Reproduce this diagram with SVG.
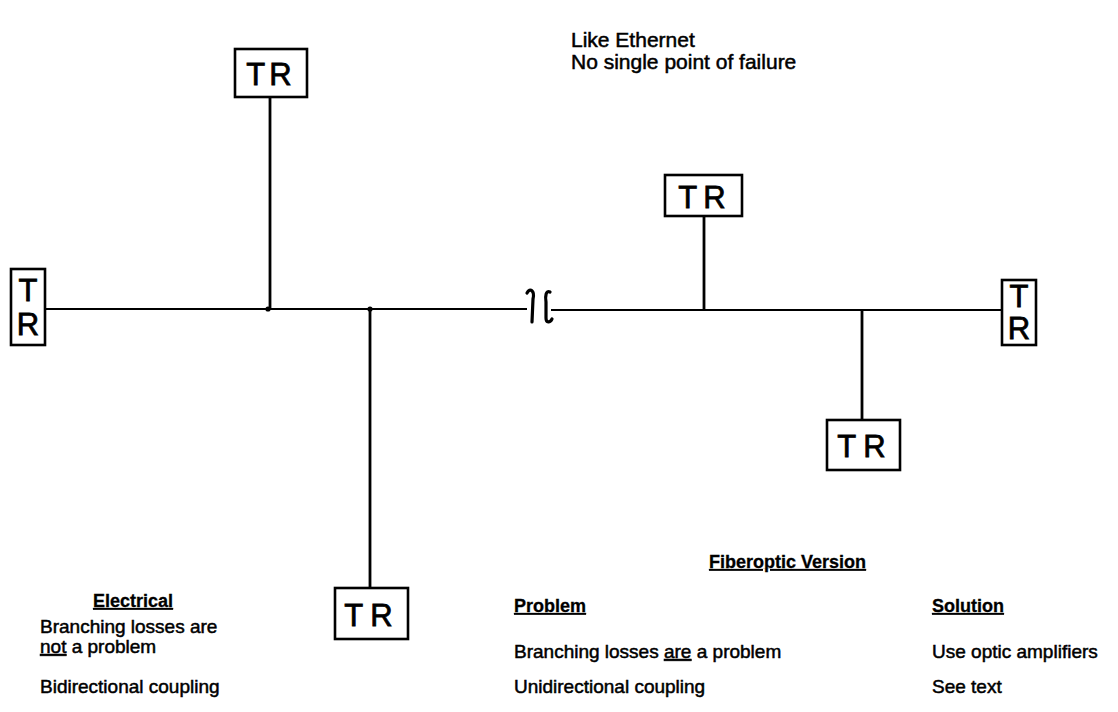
<svg xmlns="http://www.w3.org/2000/svg" width="1118" height="712" viewBox="0 0 1118 712">
  <style>
    .bus { stroke: #000; stroke-width: 2.2; fill: none; }
    .drop { stroke: #000; stroke-width: 2.8; fill: none; }
    .brk { stroke: #000; stroke-width: 3.2; fill: none; stroke-linecap: round; }
    .box { stroke: #000; stroke-width: 2.6; fill: #fff; }
    .tr { font-family: "Liberation Sans", Arial, sans-serif; font-size: 31px; fill: #000; stroke: #000; stroke-width: 0.8; text-anchor: middle; }
    .note { font-family: "Liberation Sans", Arial, sans-serif; font-size: 19px; fill: #000; stroke: #000; stroke-width: 0.5; }
    .big { font-size: 21px; }
    .head { font-weight: bold; font-size: 18px; stroke-width: 0.3; }
    .u { text-decoration: underline; }
  </style>
  <rect width="1118" height="712" fill="#fff"/>

  <!-- bus, drops and the break mark -->
  <g id="connectors">
    <line class="bus" x1="45" y1="309" x2="527" y2="309"/>
    <line class="bus" x1="551" y1="310" x2="1002" y2="310"/>
    <path class="brk" d="M527,293 C530,287 535,291 533,299 L532,322"/>
    <path class="brk" d="M550,292 C546,290 545,296 546,302 L546,318 C546,323 550,323 552,319"/>
    <line class="drop" x1="270" y1="97" x2="270" y2="309"/>
    <line class="drop" x1="370" y1="309" x2="370" y2="588"/>
    <line class="drop" x1="704" y1="216" x2="704" y2="310"/>
    <line class="drop" x1="862" y1="310" x2="862" y2="420"/>
    <circle cx="268" cy="309" r="2.6"/>
    <circle cx="370" cy="309" r="2.6"/>
  </g>

  <!-- transceiver stations -->
  <g id="tr-top">
    <rect class="box" x="235" y="49" width="72" height="48"/>
    <text class="tr" x="271" y="85" letter-spacing="4">TR</text>
  </g>
  <g id="tr-left">
    <rect class="box" x="11" y="269" width="34" height="76"/>
    <text class="tr" x="28" y="301">T</text>
    <text class="tr" x="28" y="335">R</text>
  </g>
  <g id="tr-bottom">
    <rect class="box" x="335" y="588" width="73" height="51"/>
    <text class="tr" x="372" y="626" letter-spacing="7">TR</text>
  </g>
  <g id="tr-upper-right">
    <rect class="box" x="665" y="175" width="77" height="41"/>
    <text class="tr" x="705" y="208" letter-spacing="6">TR</text>
  </g>
  <g id="tr-right">
    <rect class="box" x="1002" y="280" width="34" height="65"/>
    <text class="tr" x="1019" y="307">T</text>
    <text class="tr" x="1019" y="339">R</text>
  </g>
  <g id="tr-lower-right">
    <rect class="box" x="827" y="420" width="73" height="50"/>
    <text class="tr" x="865" y="457" letter-spacing="7">TR</text>
  </g>

  <!-- annotations -->
  <g id="notes-top">
    <text class="note big" x="571" y="47">Like Ethernet</text>
    <text class="note big" x="571" y="69">No single point of failure</text>
  </g>
  <g id="notes-electrical">
    <text class="note head u" x="93" y="607">Electrical</text>
    <text class="note" x="40" y="633">Branching losses are</text>
    <text class="note" x="40" y="653"><tspan class="u">not</tspan> a problem</text>
    <text class="note" x="40" y="693">Bidirectional coupling</text>
  </g>
  <g id="notes-fiberoptic">
    <text class="note head u" x="709" y="568">Fiberoptic Version</text>
    <text class="note head u" x="514" y="612">Problem</text>
    <text class="note" x="514" y="658">Branching losses <tspan class="u">are</tspan> a problem</text>
    <text class="note" x="514" y="693">Unidirectional coupling</text>
    <text class="note head u" x="932" y="612">Solution</text>
    <text class="note" x="932" y="658">Use optic amplifiers</text>
    <text class="note" x="932" y="693">See text</text>
  </g>
</svg>
